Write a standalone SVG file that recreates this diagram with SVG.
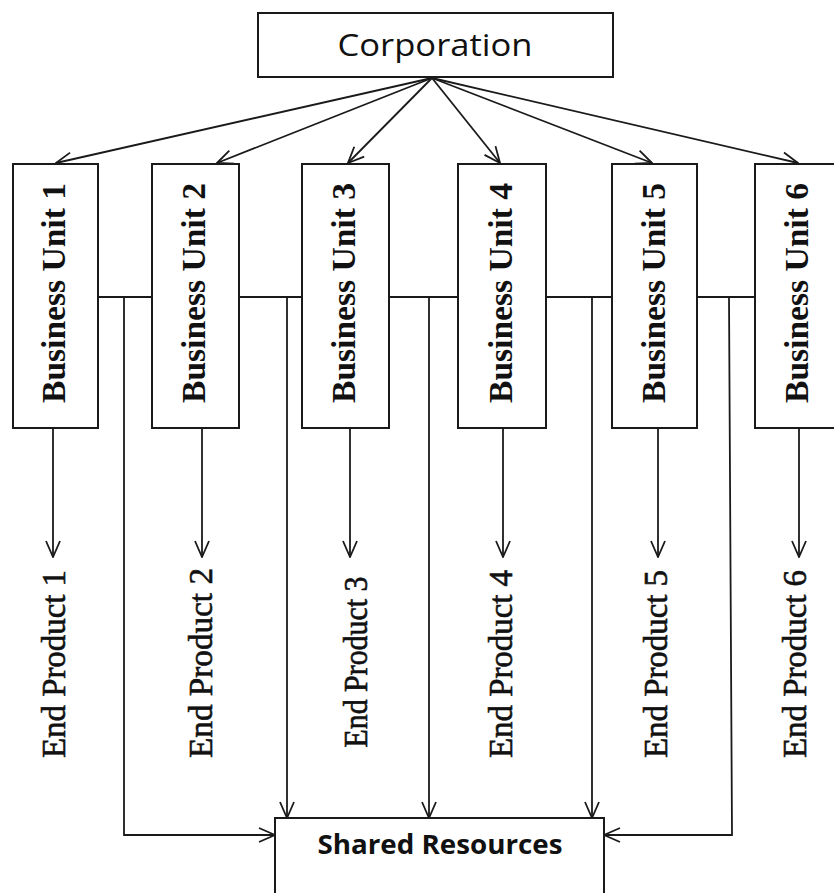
<svg xmlns="http://www.w3.org/2000/svg" width="834" height="893" viewBox="0 0 834 893">
<style>
.box{fill:#fff;stroke:#1a1a1a;stroke-width:2}
.ln{fill:none;stroke:#1a1a1a;stroke-width:1.8}
.arr{fill:none;stroke:#1a1a1a;stroke-width:1.8;marker-end:url(#ah)}
.bu{font-family:"Liberation Serif","Times New Roman",serif;font-weight:bold;font-size:33px;fill:#111;text-anchor:middle}
.ep{font-family:"Liberation Serif","Times New Roman",serif;font-size:33px;fill:#111;stroke:#111;stroke-width:0.6;text-anchor:middle}
.sans{font-family:"Open Sans","Noto Sans",sans-serif;fill:#111;text-anchor:middle}
</style>
<defs>
<marker id="ah" viewBox="0 0 18 18" refX="17" refY="9" markerWidth="18" markerHeight="18" markerUnits="userSpaceOnUse" orient="auto">
<path d="M1,2 L17,9 L1,16" fill="none" stroke="#1a1a1a" stroke-width="1.8"/>
</marker>
</defs>
<rect width="834" height="893" fill="#fff"/>
<g id="connectors">
<line class="arr" x1="432" y1="78" x2="56" y2="163"/>
<line class="arr" x1="432" y1="78" x2="217" y2="163"/>
<line class="arr" x1="432" y1="78" x2="348" y2="163"/>
<line class="arr" x1="432" y1="78" x2="500" y2="163"/>
<line class="arr" x1="432" y1="78" x2="652" y2="163"/>
<line class="arr" x1="432" y1="78" x2="798" y2="163"/>
<line class="ln" x1="98" y1="297" x2="152" y2="297"/>
<line class="ln" x1="239" y1="297" x2="302" y2="297"/>
<line class="ln" x1="389" y1="297" x2="458" y2="297"/>
<line class="ln" x1="546" y1="297" x2="612" y2="297"/>
<line class="ln" x1="697" y1="297" x2="755" y2="297"/>
<line class="arr" x1="53" y1="428" x2="53" y2="557"/>
<line class="arr" x1="202" y1="428" x2="202" y2="557"/>
<line class="arr" x1="350" y1="428" x2="350" y2="557"/>
<line class="arr" x1="503" y1="428" x2="503" y2="557"/>
<line class="arr" x1="658" y1="428" x2="658" y2="557"/>
<line class="arr" x1="799" y1="428" x2="799" y2="557"/>
<polyline class="arr" points="124,297 124,835 275,835"/>
<line class="arr" x1="287" y1="297" x2="287" y2="818"/>
<line class="arr" x1="429" y1="297" x2="429" y2="818"/>
<line class="arr" x1="592" y1="297" x2="592" y2="818"/>
<polyline class="arr" points="729,297 732,835 604,835"/>
</g>
<g id="corporation">
<rect class="box" x="258" y="13" width="355" height="64"/>
<text class="sans" x="435" y="56" font-size="31" textLength="195" lengthAdjust="spacingAndGlyphs">Corporation</text>
</g>
<g id="bu1"><rect class="box" x="13" y="164" width="85" height="264"/><text class="bu" transform="translate(65,293) rotate(-90)" textLength="220" lengthAdjust="spacingAndGlyphs">Business Unit 1</text></g>
<g id="bu2"><rect class="box" x="152" y="164" width="87" height="264"/><text class="bu" transform="translate(205,293) rotate(-90)" textLength="220" lengthAdjust="spacingAndGlyphs">Business Unit 2</text></g>
<g id="bu3"><rect class="box" x="302" y="164" width="87" height="264"/><text class="bu" transform="translate(355,293) rotate(-90)" textLength="220" lengthAdjust="spacingAndGlyphs">Business Unit 3</text></g>
<g id="bu4"><rect class="box" x="458" y="164" width="88" height="264"/><text class="bu" transform="translate(512,293) rotate(-90)" textLength="220" lengthAdjust="spacingAndGlyphs">Business Unit 4</text></g>
<g id="bu5"><rect class="box" x="612" y="164" width="85" height="264"/><text class="bu" transform="translate(665,293) rotate(-90)" textLength="220" lengthAdjust="spacingAndGlyphs">Business Unit 5</text></g>
<g id="bu6"><rect class="box" x="755" y="164" width="100" height="264"/><text class="bu" transform="translate(808,293) rotate(-90)" textLength="220" lengthAdjust="spacingAndGlyphs">Business Unit 6</text></g>
<g id="ep1"><text class="ep" transform="translate(65,664) rotate(-90)" textLength="188" lengthAdjust="spacingAndGlyphs">End Product 1</text></g>
<g id="ep2"><text class="ep" transform="translate(212,663) rotate(-90)" textLength="190" lengthAdjust="spacingAndGlyphs">End Product 2</text></g>
<g id="ep3"><text class="ep" transform="translate(367,662) rotate(-90)" textLength="171" lengthAdjust="spacingAndGlyphs">End Product 3</text></g>
<g id="ep4"><text class="ep" transform="translate(512,664) rotate(-90)" textLength="188" lengthAdjust="spacingAndGlyphs">End Product 4</text></g>
<g id="ep5"><text class="ep" transform="translate(667,664) rotate(-90)" textLength="188" lengthAdjust="spacingAndGlyphs">End Product 5</text></g>
<g id="ep6"><text class="ep" transform="translate(806,664) rotate(-90)" textLength="188" lengthAdjust="spacingAndGlyphs">End Product 6</text></g>
<g id="shared">
<rect class="box" x="275" y="818" width="329" height="90"/>
<text class="sans" x="440" y="854" font-size="26" font-weight="bold" textLength="245" lengthAdjust="spacingAndGlyphs">Shared Resources</text>
</g>
</svg>
